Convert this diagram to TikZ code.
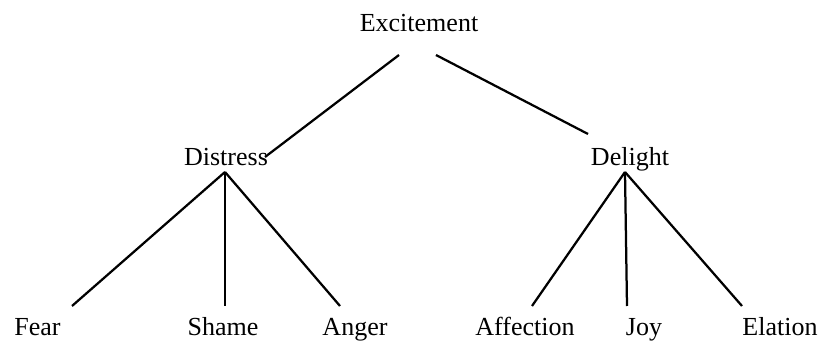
\documentclass[tikz,border=0pt]{standalone}
\usepackage{fontspec}
\setmainfont{Liberation Serif}
\usepackage{tikz}
\usetikzlibrary{positioning, calc}
\tikzset{
  emo/.style={anchor=base, inner sep=0pt, font=\fontsize{18.5}{22}\selectfont},
  branch/.style={line width=1.6pt, color=black}
}

\begin{document}
\begin{tikzpicture}[x=0.025cm, y=-0.025cm]
  \useasboundingbox (0,0) rectangle (824,347);
  % Root
  \node[emo] (exc) at (419,32) {Excitement};
  % Second level
  \node[emo] (dis) at (226,166) {Distress};
  \node[emo] (del) at (630,166) {Delight};
  % Leaves
  \node[emo] (fear)  at (37.5,336) {Fear};
  \node[emo] (shame) at (223,336) {Shame};
  \node[emo] (anger) at (355,336) {Anger};
  \node[emo] (aff)   at (525,336) {Affection};
  \node[emo] (joy)   at (644,336) {Joy};
  \node[emo] (ela)   at (780,336) {Elation};
  % Root branches
  \draw[branch] ([shift={(-20,23)}]exc.base) -- ([shift={(39,-9)}]dis.base);
  \draw[branch] ([shift={(17,23)}]exc.base) -- ([shift={(-42,-32)}]del.base);
  % Distress branches
  \draw[branch] ([shift={(-1,6)}]dis.base) -- ([shift={(34.5,-30)}]fear.base);
  \draw[branch] ([shift={(-1,6)}]dis.base) -- ([shift={(2,-30)}]shame.base);
  \draw[branch] ([shift={(-1,6)}]dis.base) -- ([shift={(-15,-30)}]anger.base);
  % Delight branches
  \draw[branch] ([shift={(-5,6)}]del.base) -- ([shift={(7,-30)}]aff.base);
  \draw[branch] ([shift={(-5,6)}]del.base) -- ([shift={(-17,-30)}]joy.base);
  \draw[branch] ([shift={(-5,6)}]del.base) -- ([shift={(-38,-30)}]ela.base);
\end{tikzpicture}
\end{document}
